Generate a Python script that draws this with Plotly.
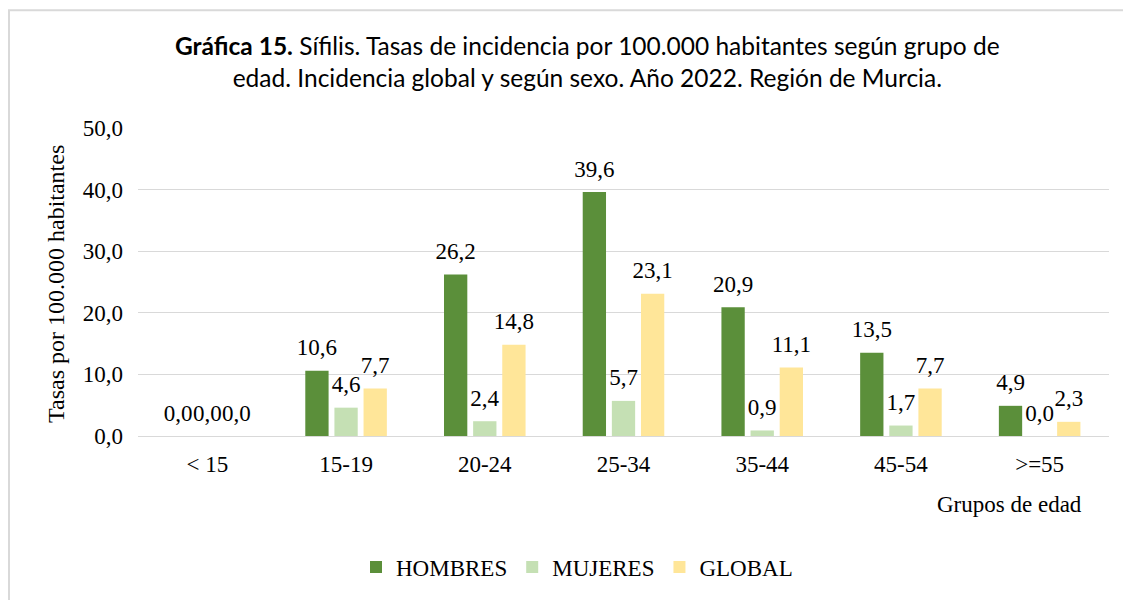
import plotly.graph_objects as go

categories = ["< 15", "15-19", "20-24", "25-34", "35-44", "45-54", ">=55"]
hombres = [0.0, 10.6, 26.2, 39.6, 20.9, 13.5, 4.9]
mujeres = [0.0, 4.6, 2.4, 5.7, 0.9, 1.7, 0.0]
global_ = [0.0, 7.7, 14.8, 23.1, 11.1, 7.7, 2.3]
series_names = ["HOMBRES", "MUJERES", "GLOBAL"]
colors = ["#5B8F3A", "#C5E0B4", "#FFE699"]
y_ticks = [0, 10, 20, 30, 40, 50]

serif = "Liberation Serif, Times New Roman, serif"
OFF = 8  # page body margin
W, H = 1131 - OFF, 600 - OFF
L, R, T, B = 138 - OFF, W - (1109 - OFF), 128 - OFF, H - (438 - OFF)
pw, ph = W - L - R, H - T - B

def px_x(x):
    return (x - OFF - L) / pw

def px_y(y):
    return (H - B - (y - OFF)) / ph

FS = 23

fig = go.Figure()
for name, vals, col in zip(series_names, [hombres, mujeres, global_], colors):
    fig.add_trace(go.Bar(
        name=name, x=categories, y=vals,
        marker=dict(color=col, line=dict(width=0)),
        texttemplate="<span style='font-size:%dpx'>%%{y:.1f}</span><br> " % FS,
        textposition="outside",
        constraintext="none",
        textfont=dict(family=serif, size=8, color="#000000"),
        cliponaxis=False,
    ))

fig.update_layout(
    width=W, height=H,
    margin=dict(l=L, r=R, t=T, b=B),
    paper_bgcolor="white", plot_bgcolor="white",
    separators=",.",
    barmode="group", bargap=0.37, bargroupgap=0.2,
    showlegend=True,
    legend=dict(orientation="h", x=px_x(577), y=px_y(570), xanchor="center", yanchor="middle",
                font=dict(family=serif, size=FS, color="#000000"), itemwidth=30,
                traceorder="normal"),
    xaxis=dict(type="category", showgrid=False, showline=False, ticks="",
               ticklabelstandoff=12,
               tickfont=dict(family=serif, size=FS, color="#000000")),
    yaxis=dict(range=[0, 50], tickvals=y_ticks, tickformat=".1f", showgrid=True,
               gridcolor="#D9D9D9", gridwidth=1, zeroline=True, zerolinecolor="#D9D9D9",
               zerolinewidth=1, showline=False, ticks="", ticklabelstandoff=14,
               tickfont=dict(family=serif, size=FS, color="#000000")),
    shapes=[dict(type="rect", xref="paper", yref="paper",
                 x0=px_x(9), x1=px_x(1150), y0=px_y(620), y1=px_y(9.5),
                 line=dict(color="#D9D9D9", width=2), fillcolor="rgba(0,0,0,0)", layer="below")],
    annotations=[
        dict(text="<b>Gráfica 15.</b> Sífilis. Tasas de incidencia por 100.000 habitantes según grupo de<br>edad. Incidencia global y según sexo. Año 2022. Región de Murcia.",
             xref="paper", yref="paper", x=px_x(587), y=px_y(61), xanchor="center", yanchor="middle",
             showarrow=False, font=dict(family="Lato, Carlito, sans-serif", size=24.5, color="#000000")),
        dict(text="Tasas por 100.000 habitantes", xref="paper", yref="paper",
             x=px_x(56), y=px_y(285), xanchor="center", yanchor="middle", textangle=-90,
             showarrow=False, font=dict(family=serif, size=24, color="#000000")),
        dict(text="Grupos de edad", xref="paper", yref="paper",
             x=px_x(1009), y=px_y(507), xanchor="center", yanchor="middle",
             showarrow=False, font=dict(family=serif, size=FS, color="#000000")),
    ],
)

fig.write_html("out.html")
